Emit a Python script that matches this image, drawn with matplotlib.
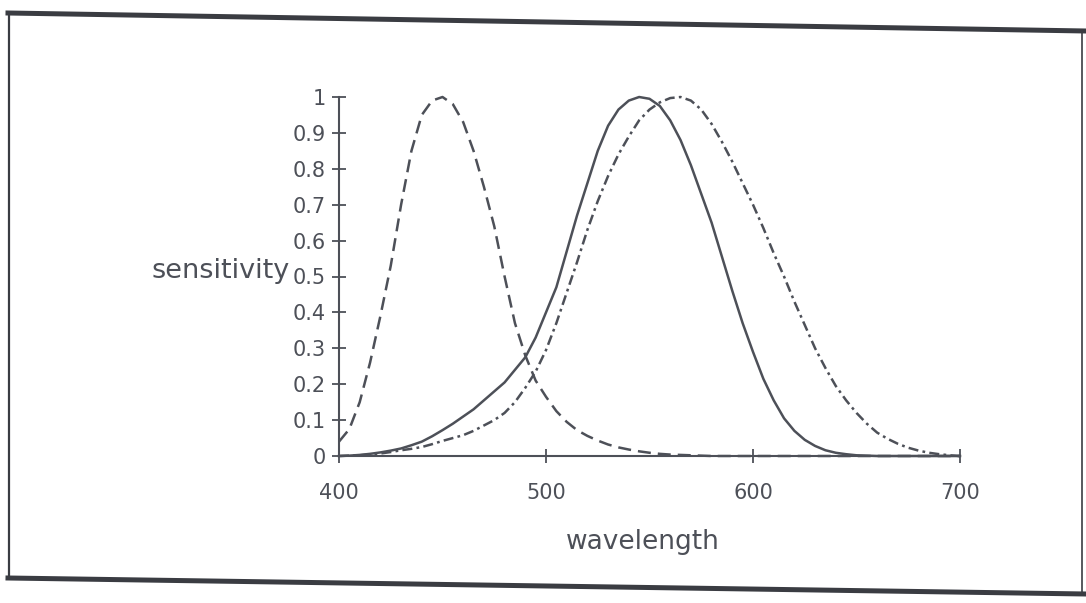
import numpy as np
import matplotlib
matplotlib.use("Agg")
import matplotlib.pyplot as plt
from matplotlib.lines import Line2D

# wavelength grid (nm) and the three cone sensitivity curves
wavelength = np.arange(400, 705, 5)

s_cone = [0.04, 0.075, 0.15, 0.26, 0.39, 0.53, 0.70, 0.85, 0.95, 0.99,
          1.00, 0.98, 0.93, 0.85, 0.75, 0.64, 0.50, 0.37, 0.28, 0.21,
          0.165, 0.125, 0.095, 0.072, 0.056, 0.043, 0.032, 0.024, 0.018, 0.013,
          0.009, 0.006, 0.004, 0.003, 0.002, 0.001, 0, 0, 0, 0,
          0, 0, 0, 0, 0, 0, 0, 0, 0, 0,
          0, 0, 0, 0, 0, 0, 0, 0, 0, 0, 0]

m_cone = [0, 0.001, 0.003, 0.006, 0.010, 0.015, 0.021, 0.030, 0.040, 0.055,
          0.072, 0.090, 0.11, 0.13, 0.155, 0.18, 0.205, 0.24, 0.275, 0.33,
          0.40, 0.47, 0.57, 0.67, 0.76, 0.85, 0.92, 0.965, 0.99, 1.00,
          0.995, 0.975, 0.935, 0.88, 0.81, 0.73, 0.65, 0.555, 0.46, 0.37,
          0.29, 0.215, 0.155, 0.105, 0.07, 0.045, 0.028, 0.016, 0.009, 0.005,
          0.002, 0.001, 0, 0, 0, 0, 0, 0, 0, 0, 0]

l_cone = [0, 0.001, 0.002, 0.004, 0.007, 0.011, 0.016, 0.020, 0.025, 0.033,
          0.042, 0.05, 0.058, 0.07, 0.085, 0.10, 0.12, 0.15, 0.19, 0.235,
          0.295, 0.37, 0.455, 0.54, 0.63, 0.71, 0.78, 0.84, 0.89, 0.935,
          0.965, 0.985, 0.997, 1.00, 0.99, 0.965, 0.925, 0.875, 0.82, 0.76,
          0.70, 0.635, 0.565, 0.50, 0.43, 0.365, 0.30, 0.245, 0.195, 0.155,
          0.12, 0.09, 0.065, 0.048, 0.034, 0.023, 0.015, 0.009, 0.005, 0.002, 0]

x_ticks = [400, 500, 600, 700]
y_ticks = [0, 0.1, 0.2, 0.3, 0.4, 0.5, 0.6, 0.7, 0.8, 0.9, 1.0]
y_tick_labels = ["0", "0.1", "0.2", "0.3", "0.4", "0.5", "0.6", "0.7", "0.8", "0.9", "1"]

ink = "#4d5058"
plt.rcParams["font.family"] = ["DejaVu Sans"]

W, H = 1086, 603
fig = plt.figure(figsize=(W / 100, H / 100), dpi=100)
fig.patch.set_facecolor("white")

# axes placed in pixel terms of the scan
x0, x1 = 339, 960
y0, y1 = 456, 97
ax = fig.add_axes([x0 / W, 1 - y0 / H, (x1 - x0) / W, (y0 - y1) / H])
ax.set_facecolor("none")

lw = 1.8
ax.plot(wavelength, s_cone, color=ink, lw=lw, dashes=(5.2, 2.8), clip_on=False)
ax.plot(wavelength, m_cone, color=ink, lw=lw, clip_on=False)
ax.plot(wavelength, l_cone, color=ink, lw=lw, dashes=(4, 1.7, 1.1, 1.7), clip_on=False)

ax.set_xlim(400, 700)
ax.set_ylim(0, 1)
for side in ["top", "right"]:
    ax.spines[side].set_visible(False)
for side in ["left", "bottom"]:
    ax.spines[side].set_color(ink)
    ax.spines[side].set_linewidth(1.5)

ax.set_xticks(x_ticks)
ax.set_yticks(y_ticks)
ax.set_yticklabels(y_tick_labels)
ax.tick_params(axis="both", direction="inout", length=9.5, width=1.3,
               color=ink, labelcolor=ink, labelsize=15)
ax.tick_params(axis="y", pad=5)
ax.tick_params(axis="x", pad=15)

ax.set_ylabel("sensitivity", rotation=0, ha="right", va="center",
              fontsize=19.5, color=ink)
ax.yaxis.set_label_coords(-0.08, 0.515)
ax.set_xlabel("wavelength", fontsize=19, color=ink, va="center")
ax.xaxis.set_label_coords(0.49, -0.24)

# scanned page frame
def px(x, y):
    return x / W, 1 - y / H

frame = [((8, 13), (1086, 31), 3.6),
         ((8, 578), (1086, 594), 3.6),
         ((9, 13), (9, 578), 1.6),
         ((1082, 30), (1082, 594), 1.2)]
for a, b, w in frame:
    (xa, ya), (xb, yb) = px(*a), px(*b)
    fig.add_artist(Line2D([xa, xb], [ya, yb], color="#3a3c42", lw=w,
                          transform=fig.transFigure))

fig.savefig("out.png", dpi=100)
